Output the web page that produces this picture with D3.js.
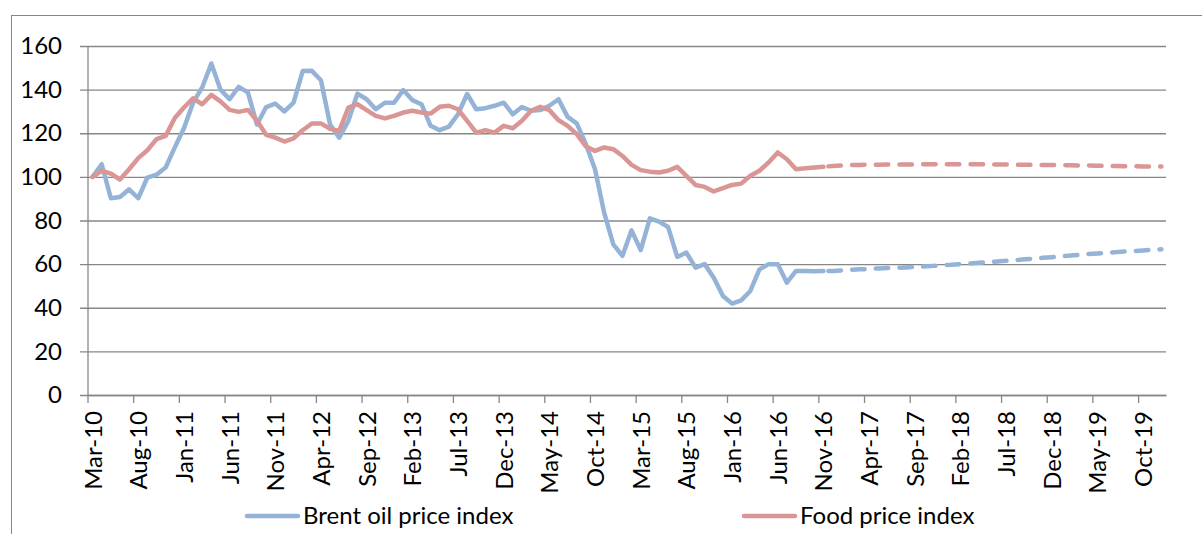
<!DOCTYPE html>
<html>
<head>
<meta charset="utf-8">
<script src="https://cdn.jsdelivr.net/npm/d3@7"></script>
<style>
  body { margin: 0; background: #fff; }
  text { font-family: Lato, "Open Sans", sans-serif; fill: #000; }
</style>
</head>
<body>
<script>
// months on the x axis: Mar-10 .. Dec-19
var months = d3.timeMonth.range(new Date(2010, 2, 1), new Date(2020, 0, 1));

// every 5th month gets a label
var tickLabels = ["Mar-10", "Aug-10", "Jan-11", "Jun-11", "Nov-11", "Apr-12", "Sep-12", "Feb-13",
  "Jul-13", "Dec-13", "May-14", "Oct-14", "Mar-15", "Aug-15", "Jan-16", "Jun-16", "Nov-16",
  "Apr-17", "Sep-17", "Feb-18", "Jul-18", "Dec-18", "May-19", "Oct-19"];

var yTicks = [0, 20, 40, 60, 80, 100, 120, 140, 160];

// Brent oil price index, Mar-10 .. Nov-16 (actual)
var brent = [100, 105.8, 90.2, 90.8, 94.3, 90.2, 99.7, 101, 104.3, 113.5,
  122.3, 134, 141, 152, 140, 135.6, 141.3, 138.7, 124, 132,
  133.6, 130, 134, 148.5, 148.6, 144.3, 124, 118, 125.7, 138.2,
  135.6, 131, 134, 134, 139.8, 135.2, 133.3, 123.4, 121.4, 123,
  128.7, 138, 131, 131.5, 132.6, 134, 128.7, 132, 130.3, 130.6,
  132.6, 135.6, 127.5, 124.5, 115, 103.5, 83.6, 69.1, 63.8, 75.5,
  66.4, 81, 79.5, 77, 63.3, 65.3, 58.4, 60, 53.8, 45.4,
  41.9, 43.4, 47.7, 57.6, 60, 60, 51.5, 56.9, 56.8, 56.7,
  56.8];

// Brent oil price index, Nov-16 .. Dec-19 (forecast)
var brentForecast = [56.8, 56.9, 57.1, 57.4, 57.6, 57.8, 58.0, 58.2, 58.3, 58.5,
  58.7, 58.9, 59.2, 59.5, 59.7, 60.0, 60.3, 60.6, 60.9, 61.2,
  61.5, 61.8, 62.2, 62.5, 62.9, 63.2, 63.5, 63.9, 64.2, 64.6,
  64.9, 65.2, 65.5, 65.8, 66.0, 66.3, 66.6, 66.8];

// Food price index, Mar-10 .. Nov-16 (actual)
var food = [100, 102.8, 101.5, 98.8, 103.5, 108.6, 112.2, 117.3, 118.8, 127,
  131.8, 136, 133.3, 137.6, 134.6, 130.7, 129.8, 130.7, 125.7, 119.3,
  118, 116.2, 117.7, 121.4, 124.5, 124.5, 122, 121.1, 131.8, 133.3,
  130.6, 128, 126.8, 128, 129.5, 130.3, 129.5, 129, 132.1, 132.6,
  131, 125.7, 120.3, 121.4, 120.3, 123.4, 122.3, 125.7, 130.3, 132.1,
  130.6, 126, 123.4, 119.6, 114, 111.9, 113.5, 112.7, 109.6, 105.5,
  103.1, 102.4, 102, 102.8, 104.6, 100.5, 96.3, 95.4, 93.3, 94.8,
  96.3, 96.9, 100.5, 102.8, 106.6, 111.2, 108.1, 103.5, 104, 104.3,
  104.6];

// Food price index, Nov-16 .. Dec-19 (forecast)
var foodForecast = [104.6, 105.0, 105.2, 105.4, 105.5, 105.6, 105.6, 105.7, 105.7, 105.7,
  105.7, 105.8, 105.8, 105.8, 105.8, 105.8, 105.8, 105.8, 105.7, 105.7,
  105.7, 105.6, 105.6, 105.5, 105.5, 105.4, 105.4, 105.3, 105.2, 105.2,
  105.1, 105.0, 105.0, 104.9, 104.9, 104.8, 104.8, 104.8];

var seriesNames = ["Brent oil price index", "Food price index"];
var colors = ["#95b3d7", "#d99694"];

// SVG area
var svgWidth = 1202;
var svgHeight = 534;

var margin = { top: 46, right: 36, bottom: 139, left: 88 };
var chartWidth = svgWidth - margin.left - margin.right;
var chartHeight = svgHeight - margin.top - margin.bottom;

var svg = d3.select("body")
  .append("svg")
  .attr("width", svgWidth)
  .attr("height", svgHeight);

// outer chart frame
svg.append("rect")
  .attr("x", 11.5)
  .attr("y", 15.5)
  .attr("width", svgWidth)
  .attr("height", svgHeight)
  .attr("fill", "none")
  .attr("stroke", "#868686")
  .attr("stroke-width", 1);

var chartGroup = svg.append("g")
  .attr("transform", `translate(${margin.left}, ${margin.top})`);

// scales
var xScale = d3.scaleBand()
  .domain(months)
  .range([0, chartWidth]);

var yScale = d3.scaleLinear()
  .domain([0, 160])
  .range([chartHeight, 0]);

var xMid = function(i) { return xScale(months[i]) + xScale.bandwidth() / 2; };

// gridlines + y axis
var yAxis = d3.axisLeft(yScale)
  .tickValues(yTicks)
  .tickSize(-chartWidth)
  .tickSizeOuter(0)
  .tickPadding(26);

var yG = chartGroup.append("g")
  .call(yAxis);
yG.select(".domain").remove();
yG.selectAll(".tick line")
  .attr("x1", -8)
  .attr("stroke", "#878787")
  .attr("stroke-width", 1.3);
yG.selectAll(".tick text")
  .style("font-size", "24px")
  .attr("fill", "#000");

// vertical axis line
chartGroup.append("line")
  .attr("x1", 0).attr("x2", 0)
  .attr("y1", 0).attr("y2", chartHeight)
  .attr("stroke", "#878787")
  .attr("stroke-width", 1.3);

// x axis: ticks at month starts, labels centred on the month
var labelMonths = months.filter(function(d, i) { return i % 5 === 0; });

var xAxis = d3.axisBottom(xScale)
  .tickValues(labelMonths)
  .tickFormat(function(d, i) { return tickLabels[i]; })
  .tickSize(8)
  .tickSizeOuter(0);

var xG = chartGroup.append("g")
  .attr("transform", `translate(0, ${chartHeight})`)
  .call(xAxis);
xG.select(".domain")
  .attr("stroke", "#878787")
  .attr("stroke-width", 1.3);
xG.selectAll(".tick")
  .attr("transform", function(d) { return `translate(${xScale(d)}, 0)`; });
xG.selectAll(".tick line")
  .attr("stroke", "#878787")
  .attr("stroke-width", 1.3);
xG.selectAll(".tick text")
  .style("font-size", "24px")
  .attr("fill", "#000")
  .attr("text-anchor", "end")
  .attr("dy", null)
  .attr("y", 0)
  .attr("transform", `translate(${xScale.bandwidth() / 2 + 9}, 16) rotate(-90)`);

// lines
var line = d3.line()
  .x(function(d) { return xMid(d.i); })
  .y(function(d) { return yScale(d.v); });

function toPoints(values, start) {
  return values.map(function(v, k) { return { i: start + k, v: v }; });
}

var actualStart = 0;
var forecastStart = brent.length - 1;

[[brent, brentForecast], [food, foodForecast]].forEach(function(s, k) {
  chartGroup.append("path")
    .attr("d", line(toPoints(s[0], actualStart)))
    .attr("fill", "none")
    .attr("stroke", colors[k])
    .attr("stroke-width", 4.5)
    .attr("stroke-linejoin", "round")
    .attr("stroke-linecap", "round");

  chartGroup.append("path")
    .attr("d", line(toPoints(s[1], forecastStart)))
    .attr("fill", "none")
    .attr("stroke", colors[k])
    .attr("stroke-width", 4.5)
    .attr("stroke-dasharray", "12.5 11.2")
    .attr("stroke-dashoffset", -5)
    .attr("stroke-linejoin", "round")
    .attr("stroke-linecap", "round");
});

// legend
var legendX = [245, 742];
var legend = svg.selectAll(".legend")
  .data(seriesNames)
  .enter()
  .append("g")
  .attr("class", "legend")
  .attr("transform", function(d, i) { return `translate(${legendX[i]}, 516)`; });

legend.append("line")
  .attr("x1", 2).attr("x2", 53)
  .attr("stroke", function(d, i) { return colors[i]; })
  .attr("stroke-width", 4.5)
  .attr("stroke-linecap", "round");

legend.append("text")
  .attr("x", 58)
  .attr("y", 8)
  .style("font-size", "24px")
  .text(function(d) { return d; });
</script>
</body>
</html>
